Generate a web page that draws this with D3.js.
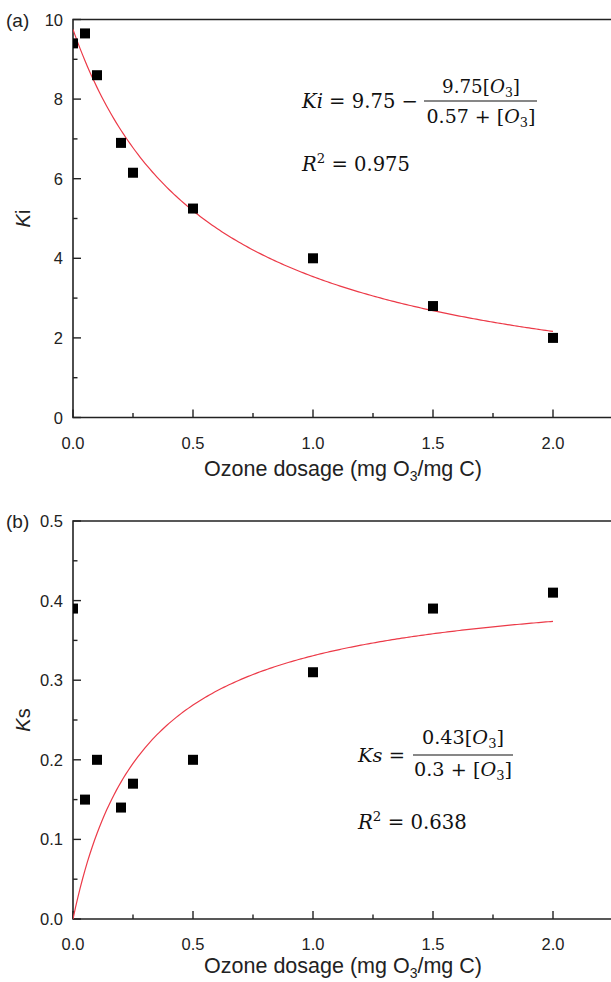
<!DOCTYPE html>
<html>
<head>
<meta charset="utf-8">
<script src="https://cdn.jsdelivr.net/npm/d3@7"></script>
<style>
  body { margin: 0; background: #fff; }
  svg { display: block; }
</style>
</head>
<body>
<svg id="chart" width="611" height="982"></svg>
<script>
// data
const dosage = [0, 0.05, 0.1, 0.2, 0.25, 0.5, 1.0, 1.5, 2.0];
const kiValues = [9.4, 9.65, 8.6, 6.9, 6.15, 5.25, 4.0, 2.8, 2.0];
const ksValues = [0.39, 0.15, 0.20, 0.14, 0.17, 0.20, 0.31, 0.39, 0.41];
const xTickLabels = ["0.0", "0.5", "1.0", "1.5", "2.0"];
const kiTicks = [0, 2, 4, 6, 8, 10];
const ksTicks = [0, 0.1, 0.2, 0.3, 0.4, 0.5];
const ksTickLabels = ["0.0", "0.1", "0.2", "0.3", "0.4", "0.5"];

// fitted models shown in the panels
const kiFit = { a: 9.75, k: 0.57 };   // Ki = a - a*x/(k+x)
const ksFit = { a: 0.43, k: 0.3 };    // Ks = a*x/(k+x)

const W = 611, H = 982;
const left = 73, right = 613;
const axisCol = "#222";
const redCol = "#ec3a48";
const sans = "'Liberation Sans', Arial, sans-serif";
const serif = "'DejaVu Serif', 'Liberation Serif', serif";

const svg = d3.select("#chart");
svg.append("rect").attr("width", W).attr("height", H).attr("fill", "#fff");

const x = d3.scaleLinear().domain([0, 2.25]).range([left, right]);

function panel(opts) {
  const { top, bottom, yMax, yMajor, yMinor, yFmt, xs, ys, fit, label, yLabel, id, titleY } = opts;
  const y = d3.scaleLinear().domain([0, yMax]).range([bottom, top]);
  const g = svg.append("g");

  // frame (right side runs off the page)
  g.append("path")
    .attr("d", `M${right},${top}H${left}V${bottom}H${right}`)
    .attr("fill", "none").attr("stroke", axisCol).attr("stroke-width", 1.6);

  // x axis ticks (inward)
  const xMajor = d3.range(0, 2.01, 0.5);
  const xMinor = d3.range(0.25, 2.3, 0.5);
  g.selectAll(null).data(xMajor).join("line")
    .attr("x1", d => x(d)).attr("x2", d => x(d))
    .attr("y1", bottom).attr("y2", bottom - 8)
    .attr("stroke", axisCol).attr("stroke-width", 1.4);
  g.selectAll(null).data(xMinor).join("line")
    .attr("x1", d => x(d)).attr("x2", d => x(d))
    .attr("y1", bottom).attr("y2", bottom - 4.5)
    .attr("stroke", axisCol).attr("stroke-width", 1.4);
  g.selectAll(null).data(xMajor).join("text")
    .attr("x", d => x(d)).attr("y", bottom + 31)
    .attr("text-anchor", "middle")
    .attr("font-family", sans).attr("font-size", 16.5).attr("fill", axisCol)
    .text((d, i) => xTickLabels[i]);

  // y axis ticks (inward)
  g.selectAll(null).data(yMajor).join("line")
    .attr("x1", left).attr("x2", left + 8)
    .attr("y1", d => y(d)).attr("y2", d => y(d))
    .attr("stroke", axisCol).attr("stroke-width", 1.4);
  g.selectAll(null).data(yMinor).join("line")
    .attr("x1", left).attr("x2", left + 4.5)
    .attr("y1", d => y(d)).attr("y2", d => y(d))
    .attr("stroke", axisCol).attr("stroke-width", 1.4);
  g.selectAll(null).data(yMajor).join("text")
    .attr("x", left - 10).attr("y", d => y(d) + 6)
    .attr("text-anchor", "end")
    .attr("font-family", sans).attr("font-size", 16.5).attr("fill", axisCol)
    .text((d, i) => yFmt(d, i));

  // panel label
  g.append("text").attr("x", 6).attr("y", top + 7)
    .attr("font-family", sans).attr("font-size", 19).attr("fill", axisCol)
    .text(label);

  // y title
  g.append("text")
    .attr("transform", `translate(30,${(top + bottom) / 2}) rotate(-90)`)
    .attr("text-anchor", "middle")
    .attr("font-family", sans).attr("font-size", 20).attr("fill", axisCol)
    .call(t => {
      t.append("tspan").attr("font-style", "italic").text(yLabel[0]);
      t.append("tspan").text(yLabel[1]);
    });

  // x title
  const xt = g.append("text")
    .attr("x", 343).attr("y", titleY)
    .attr("text-anchor", "middle")
    .attr("font-family", sans).attr("font-size", 21.5).attr("fill", axisCol);
  xt.append("tspan").text("Ozone dosage (mg O");
  xt.append("tspan").attr("font-size", 14).attr("dy", 5).text("3");
  xt.append("tspan").attr("dy", -5).text("/mg C)");

  // clip for marks
  svg.append("clipPath").attr("id", id)
    .append("rect").attr("x", left).attr("y", top).attr("width", right - left).attr("height", bottom - top);
  const plot = g.append("g").attr("clip-path", `url(#${id})`);

  // fitted curve
  const curveX = d3.range(0, 2.0001, 0.01);
  plot.append("path")
    .datum(curveX)
    .attr("d", d3.line().x(d => x(d)).y(d => y(fit(d))))
    .attr("fill", "none").attr("stroke", redCol).attr("stroke-width", 1.2);

  // data squares
  const s = 10;
  plot.selectAll(null).data(xs.map((d, i) => [d, ys[i]])).join("rect")
    .attr("x", d => x(d[0]) - s / 2).attr("y", d => y(d[1]) - s / 2)
    .attr("width", s).attr("height", s).attr("fill", "#000");

  return g;
}

panel({
  id: "clipA", top: 19.5, bottom: 417.5, yMax: 10,
  yMajor: kiTicks, yMinor: [1, 3, 5, 7, 9],
  yFmt: d => String(d),
  xs: dosage, ys: kiValues,
  fit: v => kiFit.a - kiFit.a * v / (kiFit.k + v),
  label: "(a)", yLabel: ["K", "i"], titleY: 476
});

panel({
  id: "clipB", top: 521, bottom: 919, yMax: 0.5,
  yMajor: ksTicks, yMinor: [0.05, 0.15, 0.25, 0.35, 0.45],
  yFmt: (d, i) => ksTickLabels[i],
  xs: dosage, ys: ksValues,
  fit: v => ksFit.a * v / (ksFit.k + v),
  label: "(b)", yLabel: ["K", "s"], titleY: 973
});

// equations
function o3(t) {
  t.append("tspan").text("[");
  t.append("tspan").attr("font-style", "italic").text("O");
  t.append("tspan").attr("font-size", "0.68em").attr("dy", 4).text("3");
  t.append("tspan").attr("dy", -4).text("]");
}
// size the text so it spans the width it has in the figure
function eqText(xp, yp, width, anchor, build) {
  const t = svg.append("text").attr("x", xp).attr("y", yp)
    .attr("text-anchor", anchor)
    .attr("font-family", serif).attr("font-size", 20).attr("fill", "#111");
  build(t);
  const len = t.node().getComputedTextLength();
  t.attr("font-size", 20 * width / len);
  return t;
}
function rSquared(xp, yp, width, val) {
  eqText(xp, yp, width, "start", t => {
    t.append("tspan").attr("font-style", "italic").text("R");
    t.append("tspan").attr("font-size", "0.68em").attr("dy", -8).text("2");
    t.append("tspan").attr("dy", 8).text(" = " + val);
  });
}

// panel (a)
eqText(302, 108, 116, "start", t => {
  t.append("tspan").attr("font-style", "italic").text("Ki");
  t.append("tspan").text(" = 9.75 \u2212");
});
eqText(481, 93, 78, "middle", t => { t.append("tspan").text("9.75"); o3(t); });
svg.append("line").attr("x1", 424).attr("x2", 537).attr("y1", 101).attr("y2", 101)
  .attr("stroke", "#111").attr("stroke-width", 1.2);
eqText(481, 123, 109, "middle", t => { t.append("tspan").text("0.57 + "); o3(t); });
rSquared(302, 171, 108, "0.975");

// panel (b)
eqText(358, 762, 47, "start", t => {
  t.append("tspan").attr("font-style", "italic").text("Ks");
  t.append("tspan").text(" =");
});
eqText(463, 744, 82, "middle", t => { t.append("tspan").text("0.43"); o3(t); });
svg.append("line").attr("x1", 413).attr("x2", 513).attr("y1", 755).attr("y2", 755)
  .attr("stroke", "#111").attr("stroke-width", 1.2);
eqText(463, 776, 98, "middle", t => { t.append("tspan").text("0.3 + "); o3(t); });
rSquared(358, 829, 109, "0.638");
</script>
</body>
</html>
